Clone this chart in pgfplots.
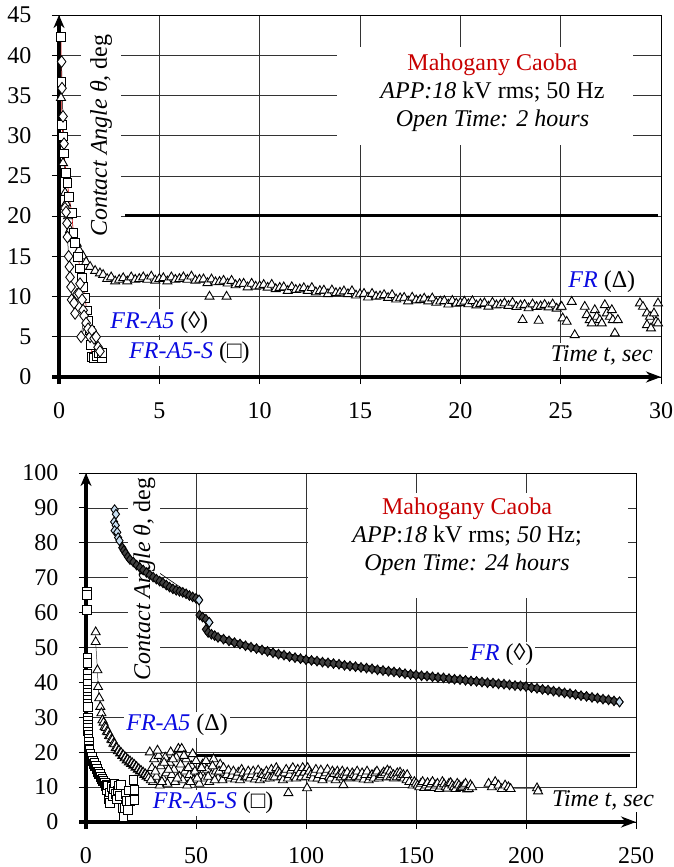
\documentclass[border=0pt]{standalone}
\usepackage{pgfplots}
\pgfplotsset{compat=1.18}
\usepackage{fontspec}
\setmainfont{Liberation Serif}
\usetikzlibrary{arrows.meta}
\definecolor{lblue}{RGB}{10,10,225}
\definecolor{mred}{RGB}{200,0,0}
\definecolor{dfill}{RGB}{200,222,240}
\newcommand{\bigf}{\fontsize{24}{28}\selectfont}
\pgfplotsset{
  mystyle/.style={
    scale only axis, clip=false,
    grid=major, major grid style={black!80, line width=0.7pt},
    axis line style={black, line width=0.8pt},
    tick align=outside, xtick pos=left, ytick pos=left,
    major tick length=7pt,
    every tick/.style={black, line width=1pt},
    ticklabel style={font=\bigf},
    /pgf/number format/assume math mode=true,
    xticklabel style={yshift=-15pt},
    yticklabel style={xshift=-17pt},
  },
  tri/.style={only marks, mark=triangle*, mark size=5.2pt, mark options={fill=white, draw=black, line width=0.9pt}},
  trl/.style={black!80, line width=0.5pt, mark=triangle*, mark size=5.2pt, mark options={fill=white, draw=black, line width=0.9pt}},
  sq/.style={mark=square*, mark size=4.3pt, mark options={fill=white, draw=black, line width=0.85pt, solid}},
  dia/.style={mark=diamond*, mark size=5.8pt, mark options={fill=white, draw=black, line width=0.85pt, solid}},
}
\begin{document}
\begin{tikzpicture}
\useasboundingbox (0,0) rectangle (674pt,-867pt);
%================ TOP PANEL =================
\begin{axis}[mystyle, at={(59pt,-377pt)}, anchor=south west,
  width=602pt, height=362pt,
  xmin=0, xmax=30, ymin=0, ymax=45,
  xtick={0,5,...,30}, ytick={0,5,...,45}]
\draw[line width=3.5pt, -{Stealth[length=13pt,width=11pt]}] ([yshift=-7pt]axis cs:0,0) -- (axis cs:0,45);
\draw[line width=3.5pt, -{Stealth[length=15pt,width=11pt]}] ([xshift=-7pt]axis cs:0,0) -- (axis cs:30,0);
\addplot[black, line width=3pt, no marks] coordinates {(3.3,20.1) (29.85,20.1)};
% FR (triangles)
\addplot[tri] table {
x y
0.10 34.7
0.20 26.6
0.30 22.9
0.35 21.6
0.45 20.0
0.55 18.3
0.70 17.2
0.88 16.6
1.00 15.8
1.20 15.0
1.35 14.3
1.55 13.7
1.80 13.2
2.04 12.9
2.2 12.7
2.4 12.2
2.6 12.4
2.8 11.9
3.0 12.1
3.2 12.3
3.4 11.9
3.6 12.4
3.8 12.1
4.0 12.2
4.2 12.4
4.4 12.1
4.6 12.5
4.8 12.0
5.0 12.2
5.2 12.3
5.4 11.9
5.6 12.4
5.8 12.1
6.0 12.2
6.2 12.4
6.4 12.1
6.6 12.5
6.8 12.0
7.0 12.1
7.2 12.15
7.4 11.69
7.6 12.14
7.8 11.79
8.0 11.83
8.2 11.98
8.4 11.63
8.6 11.97
8.8 11.42
9.0 11.57
9.2 11.61
9.4 11.16
9.6 11.61
9.8 11.25
10.0 11.30
10.2 11.46
10.4 11.12
10.6 11.48
10.8 10.94
11.0 11.10
11.2 11.16
11.4 10.72
11.6 11.18
11.8 10.84
12.0 10.90
12.2 11.06
12.4 10.72
12.6 11.08
12.8 10.54
13.0 10.70
13.2 10.76
13.4 10.32
13.6 10.78
13.8 10.44
14.0 10.50
14.2 10.66
14.4 10.32
14.6 10.68
14.8 10.14
15.0 10.30
15.2 10.35
15.4 9.90
15.6 10.35
15.8 10.00
16.0 10.05
16.2 10.20
16.4 9.85
16.6 10.20
16.8 9.65
17.0 9.80
17.2 9.86
17.4 9.42
17.6 9.88
17.8 9.54
18.0 9.60
18.2 9.76
18.4 9.42
18.6 9.78
18.8 9.24
19.0 9.40
19.2 9.46
19.4 9.02
19.6 9.48
19.8 9.14
20.0 9.20
20.2 9.38
20.4 9.06
20.6 9.44
20.8 8.92
21.0 9.10
21.2 9.18
21.4 8.76
21.6 9.24
21.8 8.92
22.0 9.00
22.2 9.18
22.4 8.86
22.6 9.24
22.8 8.72
23.0 8.90
23.2 8.98
23.4 8.56
23.6 9.04
23.8 8.72
24.0 8.80
24.2 8.98
24.4 8.66
24.6 9.04
24.8 8.52
25.0 8.70
7.5 10.0
8.35 10.0
23.1 7.1
23.9 7.0
25.05 8.74
25.1 7.30
25.3 6.88
25.55 9.36
25.7 5.22
26.2 8.74
26.3 7.71
26.45 7.09
26.55 6.67
26.7 8.33
26.8 7.50
26.95 7.09
27.05 6.67
27.2 8.95
27.3 7.92
27.45 7.50
27.55 8.33
27.6 7.09
27.7 5.43
27.85 7.09
28.95 9.16
29.1 8.74
29.3 7.92
29.45 7.50
29.3 6.46
29.5 6.05
29.65 7.92
29.75 6.88
29.85 9.16
29.85 6.67
};
% FR-A5-S (squares)
\addplot[sq, mred, line width=0.6pt] table {
x y
0.10 42.3
0.12 36.7
0.15 31.3
0.20 29.9
0.25 27.8
0.35 25.4
0.42 24.1
0.50 22.4
0.63 20.4
0.72 17.9
0.80 16.7
0.95 14.9
1.05 13.5
1.15 12.3
1.21 11.2
1.30 9.8
1.38 8.3
1.45 7.0
1.55 5.8
1.60 4.0
1.63 2.5
1.75 2.4
1.90 2.6
2.00 3.0
2.13 2.3
2.13 3.0
};
% FR-A5 (diamonds)
\addplot[dia, black, line width=0.5pt] table {
x y
0.13 39.2
0.15 35.9
0.20 32.4
0.25 29.0
0.30 21.0
0.35 20.5
0.40 19.1
0.42 17.4
0.48 15.0
0.52 13.7
0.55 12.4
0.60 11.2
0.63 9.6
0.75 9.2
0.80 7.9
0.90 10.3
1.00 10.4
1.05 11.6
1.15 9.6
1.20 8.3
1.25 7.6
1.10 5.0
1.35 6.7
1.45 6.0
1.55 5.0
1.65 5.8
1.75 4.8
1.85 5.0
1.95 3.7
2.04 3.2
};
\node[rotate=90, fill=white, inner xsep=2pt, inner ysep=9pt, font=\bigf] at (axis cs:2.1,30) {\textit{Contact Angle θ,} deg};
\fill[white] (axis cs:13.85,28.8) rectangle (axis cs:28.6,41.0);
\node[align=center, font=\bigf] at (axis cs:21.6,35.3) {\textcolor{mred}{Mahogany Caoba}\\\textit{APP:18} kV rms; 50 Hz\\\textit{Open Time: 2 hours}};
\node[fill=white, inner sep=2pt, font=\bigf] at (axis cs:5.0,6.8) {\textcolor{lblue}{\textit{FR-A5}} (◊)};
\node[fill=white, inner sep=2pt, font=\bigf] at (axis cs:6.5,3.0) {\textcolor{lblue}{\textit{FR-A5-S}} (□)};
\node[fill=white, inner sep=2pt, font=\bigf] at (axis cs:27.05,11.8) {\textcolor{lblue}{\textit{FR}} (Δ)};
\node[fill=white, inner sep=2pt, font=\bigf] at (axis cs:27.05,2.7) {\textit{Time t, sec}};
\end{axis}
%================ BOTTOM PANEL =================
\begin{axis}[mystyle, at={(86pt,-822pt)}, anchor=south west,
  width=550pt, height=349pt,
  xmin=0, xmax=250, ymin=0, ymax=100,
  xtick={0,50,...,250}, ytick={0,10,...,100}]
\draw[line width=3.5pt, -{Stealth[length=13pt,width=11pt]}] ([yshift=-7pt]axis cs:0,0) -- (axis cs:0,100);
\draw[line width=3.5pt, -{Stealth[length=15pt,width=11pt]}] ([xshift=-7pt]axis cs:0,0) -- (axis cs:250,0);
\addplot[black, line width=3pt, no marks] coordinates {(49.5,19.0) (247.3,19.0)};
% FR (diamonds): thin connecting line
\addplot[black, line width=0.6pt, no marks] table {
x y
13.0 89.5
13.6 88.2
12.8 86.0
13.5 85.0
13.0 83.5
14.2 83.0
14.6 81.5
15.2 80.6
15.8 79.5
16.5 78.6
51.4 63.6
51.6 59.3
56.0 57.2
54.5 55.2
};
\pgfplotstableread{
x y
16.5 78.6
17.2 77.8
18.0 77.0
19.0 76.0
20.0 75.2
21.5 74.5
23.0 73.6
24.5 72.9
26.0 72.2
27.5 71.5
29.0 70.8
30.5 70.2
32.0 69.6
33.5 69.0
35.0 68.5
36.5 67.9
38.0 67.3
39.5 66.8
41.0 66.4
42.5 66.1
44.0 65.8
45.5 65.4
47.0 64.9
48.5 64.5
50.0 64.1
51.4 63.6
}\frA
\pgfplotstableread{
x y
51.6 59.3
53.0 58.7
54.5 58.1
56.0 57.2
}\frB
\pgfplotstableread{
x y
54.5 55.2
55.5 54.3
57.0 53.8
58.5 53.4
60.0 52.9
62.5 52.4
65.0 51.9
67.5 51.4
70.0 51.0
72.5 50.5
75.0 50.1
77.5 49.7
80.0 49.3
82.5 48.9
85.0 48.5
87.5 48.1
90.0 47.8
92.5 47.4
95.0 47.1
97.5 46.8
100.0 46.5
102.5 46.3
105.0 46.1
107.5 45.8
110.0 45.6
112.5 45.4
115.0 45.2
117.5 44.9
120.0 44.7
122.5 44.5
125.0 44.3
127.5 44.1
130.0 43.9
132.5 43.6
135.0 43.4
137.5 43.2
140.0 43.0
142.5 42.8
145.0 42.5
147.5 42.3
150.0 42.1
152.5 41.9
155.0 41.8
157.5 41.6
160.0 41.4
162.5 41.3
165.0 41.1
167.5 40.9
170.0 40.8
172.5 40.6
175.0 40.4
177.5 40.3
180.0 40.1
182.5 39.9
185.0 39.8
187.5 39.6
190.0 39.5
192.5 39.3
195.0 39.1
197.5 39.0
200.0 38.8
202.5 38.5
205.0 38.3
207.5 38.0
210.0 37.8
212.5 37.5
215.0 37.3
217.5 37.0
220.0 36.8
222.5 36.5
225.0 36.2
227.5 36.0
230.0 35.7
232.5 35.5
235.0 35.2
237.5 35.0
240.0 34.7
242.5 34.4
}\frC
\addplot[black, line width=6pt, no marks] table {\frA};
\addplot[black, line width=6pt, no marks] table {\frB};
\addplot[black, line width=6pt, no marks] table {\frC};
\addplot[only marks, mark=diamond*, mark size=4.8pt, mark options={fill=black!75, draw=black, line width=0.9pt}] table {\frA};
\addplot[only marks, mark=diamond*, mark size=4.8pt, mark options={fill=black!75, draw=black, line width=0.9pt}] table {\frB};
\addplot[only marks, mark=diamond*, mark size=4.8pt, mark options={fill=black!75, draw=black, line width=0.9pt}] table {\frC};
\addplot[only marks, mark=diamond*, mark size=4.8pt, mark options={fill=dfill, draw=black, line width=0.9pt}] table {
x y
13.0 89.5
13.6 88.2
12.8 86.0
13.5 85.0
13.0 83.5
14.2 83.0
14.6 81.5
15.2 80.6
51.4 63.6
56.0 57.2
242.5 34.4
};
% FR-A5 (triangles) first part with line
\addplot[trl] table {
x y
4.4 54.4
4.4 51.6
5.2 43.5
5.5 38.7
6.0 35.5
6.5 33.0
7.0 31.2
7.5 29.2
8.0 28.5
8.5 27.3
9.0 27.0
9.5 25.9
10.0 25.8
10.5 24.7
11.0 24.6
11.5 23.6
12.0 23.5
12.5 22.5
13.0 22.3
13.5 21.2
14.0 21.2
14.5 20.3
15.0 20.5
15.5 19.7
16.0 19.8
16.5 19.0
17.0 19.1
17.5 18.3
18.0 18.5
18.5 17.7
19.0 17.9
19.5 17.1
20.0 17.4
20.5 16.7
21.0 16.9
21.5 16.2
22.0 16.4
22.5 15.6
23.0 15.8
23.5 15.0
24.0 15.2
24.5 14.5
25.0 14.7
25.5 14.0
26.0 14.2
26.5 13.5
27.0 13.7
27.5 13.0
28.0 13.2
28.5 12.6
};
\addplot[tri] table {
x y
29 20.0
30 15.5
30.5 11.5
31 18.0
32 13.0
33 19.0
33.5 10.5
34 16.0
35 12.5
36 18.5
36.5 14.0
37 11.0
38 17.0
38.5 20.0
39 13.5
40 15.0
40.5 11.5
41 18.5
42 21.0
42.5 13.0
43 16.5
43.5 21.0
44 12.0
45 14.5
45.5 18.0
46 10.5
47 13.5
48 16.0
49 12.0
50 17.5
51 14.0
51.5 11.0
52 13.0
53 16.5
54 12.5
55 15.0
56 11.5
57 13.5
58 18.0
59 14.5
60 12.5
61 16.5
62 12.0
63 14.0
29.5 12.0
31.5 14.5
32.5 20.5
34.5 11.5
35.5 17.0
37.5 15.0
39.5 18.0
41.5 12.5
44.5 19.0
46.5 15.5
47.5 11.5
48.5 19.5
49.5 14.5
50.5 12.5
52.5 15.5
54.5 17.5
55.5 13.0
57.5 16.0
58.5 12.0
60.5 14.5
62.5 15.5
92 8.3
100.5 9.7
117 10.6
};
\addplot[trl] table {
x y
64 13.5
64.75 14.8
65.5 12.5
66.25 13.2
67 14.5
67.75 12.2
68.5 13.0
69.25 14.2
70 12.0
70.75 15.0
71.5 14.0
72.25 12.8
73 13.0
73.75 14.5
74.5 12.5
75.25 13.5
76 14.5
76.75 12.2
77.5 13.0
78.25 14.8
79 12.0
79.75 13.8
80.5 13.5
81.25 12.5
82 14.5
82.75 13.2
83.5 12.5
84.25 15.0
85 13.0
85.75 12.8
86.5 15.5
87.25 14.5
88 14.0
88.75 13.0
89.5 12.0
90.25 14.0
91 15.0
91.75 12.5
92.5 13.5
93.25 14.8
94 15.5
94.75 13.0
95.5 12.5
96.25 15.0
97 14.0
97.75 12.8
98.5 15.5
99.25 14.2
100 13.0
100.75 15.5
101.5 14.5
102.25 13.5
103 12.5
103.75 14.0
104.5 15.0
105.25 12.5
106 13.5
106.75 14.8
107.5 12.0
108.25 13.2
109 14.0
109.75 15.0
110.5 13.0
111.25 12.5
112 14.5
112.75 13.8
113.5 12.0
114.25 14.5
115 13.5
115.75 12.8
116.5 14.5
117.25 13.5
118 13.0
118.75 14.2
119.5 12.5
120.25 12.8
121 14.0
121.75 13.5
122.5 13.0
123.25 14.5
124 12.5
124.75 13.0
125.5 14.0
126.25 12.2
127 13.5
127.75 14.5
128.5 12.0
129.25 13.0
130 13.5
130.75 12.5
131.5 14.0
132.25 14.5
133 12.5
133.75 13.0
134.5 13.5
135.25 14.2
136 14.0
136.75 12.8
137 14.8
138.25 14.5
138.5 13.0
139.75 13.5
140 12.5
141.25 12.8
141.5 14.0
142.75 14.2
143 13.0
144.25 13.5
144.5 12.5
145.75 12.0
146 13.5
147 11.5
148.5 10.5
149.25 11.5
150 11.0
150.75 10.5
151.5 10.0
152.25 11.0
153 11.5
153.75 9.8
154.5 10.5
155.25 11.2
156 10.0
156.75 10.8
157.5 11.5
158.25 9.8
159 10.5
159.75 11.0
160.5 9.5
161.25 10.2
162 11.5
162.75 10.8
163.5 10.0
164.25 9.6
165 11.0
165.75 11.2
166.5 10.5
167.25 10.0
168 9.5
168.75 11.0
169.5 10.5
170.25 9.8
171 10.0
171.75 10.5
172.5 11.0
173.25 9.4
174 9.5
174.75 10.6
175.5 10.0
};
\addplot[trl] table {
x y
183 11.0
184.5 10.0
186 11.5
187.5 10.5
189 9.5
190.5 10.5
192 10.0
193 9.5
205 9.7
205.5 8.8
};
% FR-A5-S (squares)
\addplot[sq, black, line width=0.5pt] table {
x y
0.5 66.0
0.5 65.0
0.5 60.8
0.6 47.0
0.6 45.5
0.6 42.5
0.6 41.0
0.6 39.5
0.7 38.0
0.7 37.0
0.7 36.0
0.7 35.0
0.7 34.0
0.8 33.0
0.8 30.0
0.9 29.0
0.9 28.0
1.0 27.0
1.0 26.0
1.1 25.0
1.1 24.0
1.2 23.0
1.3 22.0
1.4 21.0
1.6 20.6
1.8 19.5
2.0 19.6
2.3 18.5
2.6 18.6
2.9 17.5
3.2 17.7
3.5 16.7
3.8 16.9
4.1 15.9
4.4 16.1
4.7 15.1
5.0 15.3
5.3 14.3
5.6 14.5
5.9 13.6
6.2 13.8
6.5 12.9
6.8 13.1
7.1 12.2
7.4 12.5
7.7 11.6
8.0 11.9
8.3 11.0
8.6 11.3
8.9 10.4
9.2 10.7
9.5 9.2
10.0 10.5
10.5 6.5
11.0 8.5
11.0 5.4
11.5 10.0
12.0 7.5
12.5 9.5
13.0 11.0
13.5 8.0
14.0 6.5
14.5 9.0
15.0 10.5
15.5 7.5
16.0 10.6
16.5 4.0
17.0 1.5
17.5 4.0
18.0 8.0
18.5 6.0
19.0 3.5
19.5 9.0
20.0 6.0
21.5 12.0
22.0 9.2
22.0 6.3
};
\node[rotate=90, fill=white, inner xsep=2pt, inner ysep=5pt, font=\bigf] at (axis cs:26.5,69.6) {\textit{Contact Angle θ,} deg};
\fill[white] (axis cs:101,64.2) rectangle (axis cs:246.4,94.3);
\node[align=center, font=\bigf] at (axis cs:173.2,81.7) {\textcolor{mred}{Mahogany Caoba}\\\textit{APP}:\textit{18} kV rms; \textit{50} Hz;\\\textit{Open Time: 24 hours}};
\node[fill=white, inner sep=2pt, font=\bigf] at (axis cs:189,47.9) {\textcolor{lblue}{\textit{FR}} (◊)};
\node[fill=white, inner sep=2pt, font=\bigf] at (axis cs:41.4,27.8) {\textcolor{lblue}{\textit{FR-A5}} (Δ)};
\node[fill=white, inner sep=2pt, font=\bigf] at (axis cs:57.8,5.4) {\textcolor{lblue}{\textit{FR-A5-S}} (□)};
\node[fill=white, inner sep=2pt, font=\bigf] at (axis cs:235,6.3) {\textit{Time t, sec}};
\end{axis}
\end{tikzpicture}
\end{document}
